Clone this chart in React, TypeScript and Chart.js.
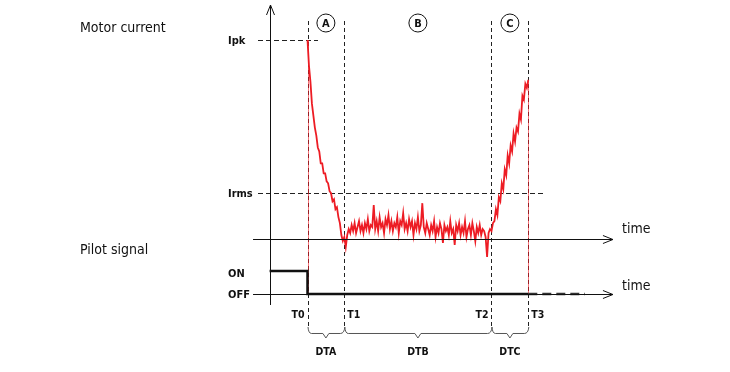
import { useEffect, useRef } from "react";
import { Chart, registerables } from "chart.js";

Chart.register(...registerables);

// ---- data ----
const phaseLabels = ["A", "B", "C"];
const timeMarks = [0, 1, 5, 6]; // T0..T3 (time units)
const timeMarkLabels = ["T0", "T1", "T2", "T3"];
const durationLabels = ["DTA", "DTB", "DTC"];
const currentLevelLabels = ["Ipk", "Irms"];
const currentLevels = [100, 23]; // % of peak
const pilotLevelLabels = ["ON", "OFF"];
const pilotLevels = [1, 0];
const seriesTitles = ["Motor current", "Pilot signal"];
const axisTitle = "time";

const sampleStep = 0.04; // time units between current samples
const decayCurrent = [
  100, 87, 79, 68, 62, 56, 52, 46, 44, 38, 38, 33, 33, 29, 28, 24, 23, 19, 20, 15,
  16, 11, 8, 2, -1,
];
const steadyCurrent = [
  1, -4, 2, 5, 3, 7, 4, 8, 3, 6, 9, 4, 7, 3, 8, 5, 10, 4, 7, 6,
  17, 5, 9, 4, 11, 6, 8, 3, 10, 7, 12, 5, 9, 4, 8, 6, 11, 3, 9, 7,
  13, 5, 8, 4, 10, 6, 9, 2, 8, 5, 11, 4, 7, 18, 6, 3, 8, 5, 2, 7,
  4, 9, 1, 6, 3, 8, 5, -2, 7, 4, 6, 2, 9, 3, 5, -3, 7, 4, 8, 2,
  6, 3, 9, 1, 5, 7, 2, 8, 4, -1, 6, 3, 7, 2, 5, 4, 1, -9, 3, 5,
];
const rampCurrent = [
  4, 8, 9, 15, 12, 21, 19, 28, 25, 35, 32, 42, 38, 47, 44, 53, 49, 56, 54, 63,
  60, 72, 70, 78, 76, 80,
];
const pilotTime = [-1.03, 0, 0, 6];
const pilotState = [1, 1, 0, 0];
const pilotIdleTime = [6, 7.54];
const pilotIdleState = [0, 0];

const RED = "rgb(237,28,36)";
const FONT = "'Liberation Sans Narrow','DejaVu Sans Condensed','Roboto Condensed','Liberation Sans',sans-serif";

export default function App() {
  const ref = useRef<HTMLCanvasElement | null>(null);

  useEffect(() => {
    document.body.style.margin = "0";
    const canvas = ref.current;
    if (!canvas) return;

    const allCurrent = [...decayCurrent, ...steadyCurrent, ...rampCurrent];
    const currentPoints = allCurrent.map((v, i) => ({ x: i * sampleStep, y: v }));
    const pilotPoints = pilotTime.map((t, i) => ({ x: t, y: pilotState[i] }));
    const idlePoints = pilotIdleTime.map((t, i) => ({ x: t, y: pilotIdleState[i] }));

    const arrowRight = (ctx: CanvasRenderingContext2D, x: number, y: number) => {
      ctx.beginPath();
      ctx.moveTo(x - 10, y - 4);
      ctx.lineTo(x, y);
      ctx.lineTo(x - 10, y + 4);
      ctx.stroke();
    };

    const diagram = {
      id: "diagram",
      beforeDatasetsDraw(chart: any) {
        const ctx: CanvasRenderingContext2D = chart.ctx;
        const X = (t: number) => chart.scales.x.getPixelForValue(t);
        const C = (v: number) => chart.scales.yCur.getPixelForValue(v);
        const P = (v: number) => chart.scales.yPil.getPixelForValue(v);
        ctx.save();
        ctx.strokeStyle = "#222";
        ctx.lineWidth = 1;
        ctx.setLineDash([4, 3]);
        timeMarks.forEach((t) => {
          const x = Math.round(X(t)) + 0.5;
          ctx.beginPath();
          ctx.moveTo(x, C(0) - 218);
          ctx.lineTo(x, P(0) + 33);
          ctx.stroke();
        });
        ctx.setLineDash([5, 3]);
        const ends = [0.285, 6.48];
        currentLevels.forEach((v, i) => {
          const y = Math.round(C(v)) + 0.5;
          ctx.beginPath();
          ctx.moveTo(X(-1.345), y);
          ctx.lineTo(X(ends[i]), y);
          ctx.stroke();
        });
        ctx.setLineDash([]);
        ctx.strokeStyle = "rgba(237,28,36,0.6)";
        const edges = [
          [timeMarks[0], decayCurrent[0]],
          [timeMarks[3], rampCurrent[rampCurrent.length - 1]],
        ];
        edges.forEach(([t, v]) => {
          const x = Math.round(X(t)) + 0.5;
          ctx.beginPath();
          ctx.moveTo(x, C(v));
          ctx.lineTo(x, P(0));
          ctx.stroke();
        });
        ctx.restore();
      },
      afterDatasetsDraw(chart: any) {
        const ctx: CanvasRenderingContext2D = chart.ctx;
        const X = (t: number) => chart.scales.x.getPixelForValue(t);
        const C = (v: number) => chart.scales.yCur.getPixelForValue(v);
        const P = (v: number) => chart.scales.yPil.getPixelForValue(v);
        ctx.save();
        ctx.strokeStyle = "#111";
        ctx.fillStyle = "#111";
        ctx.lineWidth = 1;
        const ax = Math.round(X(-1.03)) + 0.5;
        ctx.beginPath();
        ctx.moveTo(ax, C(0) - 234);
        ctx.lineTo(ax, P(0) + 11);
        ctx.stroke();
        ctx.beginPath();
        ctx.moveTo(ax - 4, C(0) - 224);
        ctx.lineTo(ax, C(0) - 234);
        ctx.lineTo(ax + 4, C(0) - 224);
        ctx.stroke();
        [Math.round(C(0)) + 0.5, Math.round(P(0)) + 0.5].forEach((y) => {
          ctx.beginPath();
          ctx.moveTo(X(-1.48), y);
          ctx.lineTo(X(8.3), y);
          ctx.stroke();
          arrowRight(ctx, X(8.3), y);
        });
        ctx.font = `14px ${FONT}`;
        ctx.textBaseline = "middle";
        ctx.textAlign = "left";
        ctx.fillText(seriesTitles[0], 80, C(0) - 211);
        ctx.fillText(seriesTitles[1], 80, P(0) - 44);
        ctx.fillText(axisTitle, X(8.3) + 9, C(0) - 10);
        ctx.fillText(axisTitle, X(8.3) + 9, P(0) - 8);
        ctx.font = `bold 11px ${FONT}`;
        currentLevels.forEach((v, i) => ctx.fillText(currentLevelLabels[i], 228, C(v) + 1));
        pilotLevels.forEach((v, i) => ctx.fillText(pilotLevelLabels[i], 228, P(v) + (v ? 3 : 1)));
        ctx.font = `bold 10.5px ${FONT}`;
        timeMarks.forEach((t, i) => {
          const right = i === 0 || i === 2;
          ctx.textAlign = right ? "right" : "left";
          ctx.fillText(timeMarkLabels[i], X(t) + (right ? -3 : 3), P(0) + 21);
        });
        for (let i = 0; i < 3; i++) {
          const xa = X(timeMarks[i]);
          const xb = X(timeMarks[i + 1]);
          const mid = (xa + xb) / 2;
          const cy = C(0) - 216;
          ctx.lineWidth = 1;
          ctx.beginPath();
          ctx.arc(mid, cy, 9, 0, Math.PI * 2);
          ctx.stroke();
          ctx.textAlign = "center";
          ctx.font = `bold 11px ${FONT}`;
          ctx.fillText(phaseLabels[i], mid, cy + 1);
          const yTop = P(0) + 33;
          const yBar = P(0) + 39.5;
          const yTip = P(0) + 44;
          ctx.strokeStyle = "#555";
          ctx.beginPath();
          ctx.moveTo(xa + 0.5, yTop);
          ctx.quadraticCurveTo(xa + 1, yBar, xa + 4, yBar);
          ctx.lineTo(mid - 3, yBar);
          ctx.lineTo(mid, yTip);
          ctx.lineTo(mid + 3, yBar);
          ctx.lineTo(xb - 4, yBar);
          ctx.quadraticCurveTo(xb, yBar, xb + 0.5, yTop);
          ctx.stroke();
          ctx.strokeStyle = "#111";
          ctx.font = `bold 10.5px ${FONT}`;
          ctx.fillText(durationLabels[i], mid, P(0) + 58);
        }
        ctx.restore();
      },
    };

    const chart = new Chart(canvas, {
      type: "scatter",
      data: {
        datasets: [
          {
            data: currentPoints,
            showLine: true,
            borderColor: RED,
            borderWidth: 1.8,
            pointRadius: 0,
            yAxisID: "yCur",
            tension: 0,
          },
          {
            data: pilotPoints,
            showLine: true,
            borderColor: "#111",
            borderWidth: 2.5,
            pointRadius: 0,
            yAxisID: "yPil",
          },
          {
            data: idlePoints,
            showLine: true,
            borderColor: "#333",
            borderWidth: 2.5,
            borderDash: [9, 5],
            pointRadius: 0,
            yAxisID: "yPil",
          },
        ],
      },
      options: {
        animation: false,
        responsive: false,
        events: [],
        layout: { padding: 0 },
        plugins: { legend: { display: false }, tooltip: { enabled: false } },
        scales: {
          x: { type: "linear", min: -8.356, max: 11.481, display: false },
          yCur: { type: "linear", position: "left", min: -66.83, max: 120.1, display: false },
          yPil: { type: "linear", position: "left", min: -3.391, max: 12.78, display: false },
        },
      },
      plugins: [diagram],
    });
    return () => chart.destroy();
  }, []);

  return (
    <div style={{ width: 730, height: 372, background: "#fff" }}>
      <canvas ref={ref} width={730} height={372} />
    </div>
  );
}
